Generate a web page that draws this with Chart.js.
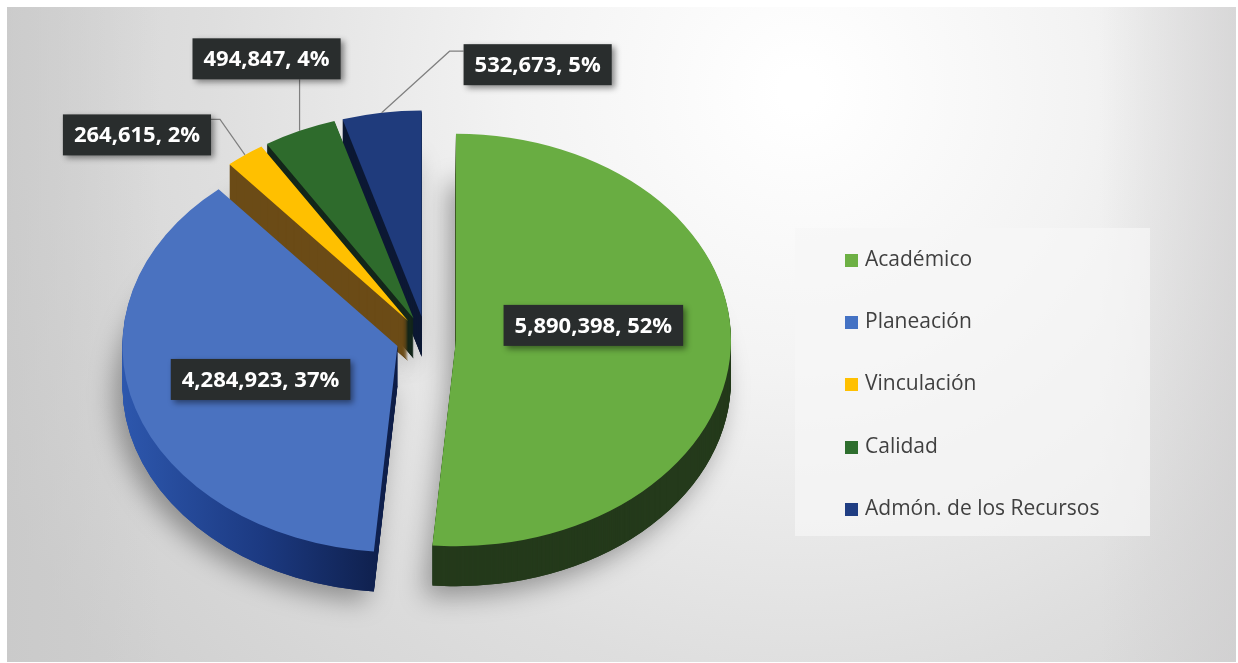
<!DOCTYPE html>
<html>
<head>
<meta charset="utf-8">
<script src="https://cdn.jsdelivr.net/npm/chart.js@4/dist/chart.umd.min.js"></script>
<style>
  html, body { margin: 0; padding: 0; background: #fff; }
  #wrap { position: relative; width: 1238px; height: 663px; overflow: hidden; }
  #c { position: absolute; left: 0; top: 0; }
  #legend { position: absolute; left: 795px; top: 228px; width: 355px; height: 308px;
            background: rgba(246,246,246,0.7); }
  .item { position: absolute; left: 50px; height: 26px; line-height: 26px; white-space: nowrap;
          font: 21px "Open Sans", sans-serif; color: #404040; }
  .sw { display: inline-block; width: 13px; height: 13px; margin-right: 7px; vertical-align: -1px; }
</style>
</head>
<body>
<div id="wrap">
  <canvas id="c" width="1238" height="663"></canvas>
  <div id="legend"></div>
</div>
<script>
  // data
  const categories = ['Académico', 'Planeación', 'Vinculación', 'Calidad', 'Admón. de los Recursos'];
  const values = [5890398, 4284923, 264615, 494847, 532673];
  const percents = ['52%', '37%', '2%', '4%', '5%'];

  // colours
  const topColors = ['#69ad42', '#4a72c0', '#ffc000', '#2e6b2c', '#1f3b7c'];
  const sideColors = ['#243a1b', 'blueGradient', '#6b4b16', '#13261a', '#0d1934'];
  const legendColors = ['#6db044', '#4472c4', '#ffc000', '#2e6e2e', '#1f3d82'];

  // 3d look
  const K = 0.75;       // vertical squash of the pie
  const DEPTH = 40;     // thickness in px
  const EXPLODE = 30;   // how far every slice is pulled out

  // label placement (relative to slice geometry)
  const insideLabel = [true, true, false, false, false];
  const labelNudge = [[0, -19], [-6, 2], [-108, -20], [-33, -72], [156, -48]];
  const leaderSide = [null, null, 'right', 'below', 'left'];

  function sliceGeom(el) {
    const mid = (el.startAngle + el.endAngle) / 2;
    return {
      mid: mid,
      tx: el.x + Math.cos(mid) * EXPLODE,
      ty: el.y + Math.sin(mid) * EXPLODE * K
    };
  }

  function paintArc(ctx, el, fill, dy) {
    const g = sliceGeom(el);
    ctx.save();
    ctx.translate(g.tx, g.ty + dy);
    ctx.scale(1, K);
    ctx.translate(-el.x, -el.y);
    const o = el.options;
    el.options = Object.assign({}, o, { backgroundColor: fill, borderWidth: 0 });
    el.draw(ctx);
    el.options = o;
    ctx.restore();
  }

  function sideFill(ctx, el, i) {
    if (sideColors[i] !== 'blueGradient') return sideColors[i];
    const R = el.outerRadius;
    const gr = ctx.createLinearGradient(el.x - R, 0, el.x, 0);
    gr.addColorStop(0, '#2d57ad');
    gr.addColorStop(0.5, '#1c3a82');
    gr.addColorStop(1, '#0d1c45');
    return gr;
  }

  const pie3d = {
    id: 'pie3d',
    beforeDraw(chart) {
      const ctx = chart.ctx;
      ctx.save();
      ctx.fillStyle = '#ffffff';
      ctx.fillRect(0, 0, chart.width, chart.height);
      const bg = ctx.createRadialGradient(800, 90, 20, 800, 90, 900);
      bg.addColorStop(0, '#ffffff');
      bg.addColorStop(0.3, '#f3f3f3');
      bg.addColorStop(0.65, '#dedede');
      bg.addColorStop(1, '#cfcfcf');
      ctx.fillStyle = bg;
      ctx.fillRect(7, 7, 1229, 655);
      const side = ctx.createLinearGradient(7, 0, 160, 0);
      side.addColorStop(0, 'rgba(200,200,200,0.7)');
      side.addColorStop(1, 'rgba(200,200,200,0)');
      ctx.fillStyle = side;
      ctx.fillRect(7, 7, 153, 655);
      const right = ctx.createLinearGradient(1100, 0, 1236, 0);
      right.addColorStop(0, 'rgba(205,204,205,0)');
      right.addColorStop(1, 'rgba(205,204,205,0.6)');
      ctx.fillStyle = right;
      ctx.fillRect(1100, 7, 136, 655);
      ctx.restore();
    },
    beforeDatasetsDraw(chart) {
      const ctx = chart.ctx;
      const arcs = chart.getDatasetMeta(0).data;
      // soft shadow under the whole pie
      ctx.save();
      ctx.shadowColor = 'rgba(0,0,0,0.35)';
      ctx.shadowBlur = 26;
      ctx.shadowOffsetX = -8;
      ctx.shadowOffsetY = 10;
      arcs.forEach((el, i) => paintArc(ctx, el, sideFill(ctx, el, i), DEPTH));
      ctx.restore();
      // back slices first
      const order = arcs.map((el, i) => i)
        .sort((a, b) => sliceGeom(arcs[a]).ty - sliceGeom(arcs[b]).ty);
      order.forEach(i => {
        const el = arcs[i];
        const sf = sideFill(ctx, el, i);
        for (let d = DEPTH; d > 0; d--) paintArc(ctx, el, sf, d);
        paintArc(ctx, el, topColors[i], 0);
      });
      return false;
    },
    afterDraw(chart) {
      const ctx = chart.ctx;
      const arcs = chart.getDatasetMeta(0).data;
      ctx.save();
      ctx.font = 'bold 22px "Open Sans"';
      ctx.textAlign = 'center';
      ctx.textBaseline = 'middle';
      arcs.forEach((el, i) => {
        const g = sliceGeom(el);
        const R = el.outerRadius;
        const c = Math.cos(g.mid), s = Math.sin(g.mid);
        let px, py, bx, by;
        if (insideLabel[i]) {
          px = g.tx + c * R * 0.5;
          py = g.ty + s * R * 0.5 * K;
        } else {
          px = g.tx + c * R;
          py = g.ty + s * R * K;
        }
        bx = px + labelNudge[i][0];
        by = py + labelNudge[i][1];
        const text = values[i].toLocaleString('en-US') + ', ' + percents[i];
        const w = ctx.measureText(text).width + 22;
        const h = 41;
        const left = bx - w / 2, top = by - h / 2;

        // leader line
        if (leaderSide[i]) {
          ctx.strokeStyle = '#808080';
          ctx.lineWidth = 1.2;
          ctx.beginPath();
          ctx.moveTo(px, py);
          if (leaderSide[i] === 'left') {
            ctx.lineTo(left - 14, top + 7);
            ctx.lineTo(left, top + 7);
          } else if (leaderSide[i] === 'right') {
            ctx.lineTo(left + w + 9, top + 5);
            ctx.lineTo(left + w, top + 5);
          } else {
            ctx.lineTo(px, top + h);
          }
          ctx.stroke();
        }

        ctx.save();
        ctx.shadowColor = 'rgba(0,0,0,0.45)';
        ctx.shadowBlur = 6;
        ctx.shadowOffsetX = 3;
        ctx.shadowOffsetY = 3;
        ctx.fillStyle = '#292d2d';
        ctx.fillRect(left, top, w, h);
        ctx.restore();
        ctx.fillStyle = '#ffffff';
        ctx.fillText(text, bx, by + 1);
      });
      ctx.restore();
    }
  };

  new Chart(document.getElementById('c'), {
    type: 'pie',
    data: {
      labels: categories,
      datasets: [{
        data: values,
        backgroundColor: topColors,
        borderWidth: 0
      }]
    },
    options: {
      responsive: false,
      animation: false,
      radius: 275,
      layout: { padding: { left: 0, right: 386, top: 15, bottom: 0 } },
      plugins: {
        legend: { display: false },
        tooltip: { enabled: false }
      }
    },
    plugins: [pie3d]
  });

  // legend
  const legend = document.getElementById('legend');
  categories.forEach((name, i) => {
    const item = document.createElement('div');
    item.className = 'item';
    item.style.top = (16 + i * 62.2) + 'px';
    item.innerHTML = '<span class="sw" style="background:' + legendColors[i] + '"></span>' + name;
    legend.appendChild(item);
  });
</script>
</body>
</html>
